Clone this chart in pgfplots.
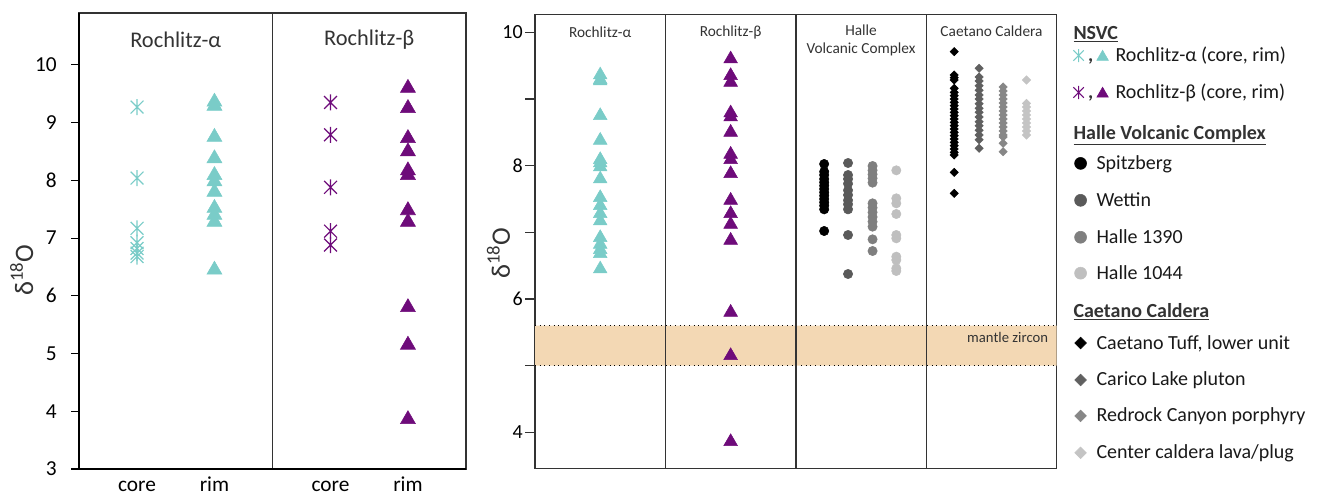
\documentclass[border=0pt]{standalone}
\usepackage{fontspec}
\setmainfont{Carlito}
\usepackage{pgfplots}
\pgfplotsset{compat=1.18}
\definecolor{cyanC}{HTML}{7ACCC8}
\definecolor{purpC}{HTML}{6E0B7A}
\definecolor{hB}{HTML}{5A5A5A}
\definecolor{hC}{HTML}{7F7F7F}
\definecolor{hD}{HTML}{BFBFBF}
\definecolor{cB}{HTML}{606060}
\definecolor{cC}{HTML}{878787}
\definecolor{cD}{HTML}{C4C4C4}
\definecolor{bandC}{HTML}{F3D8B4}
\definecolor{frameC}{HTML}{333333}
\pgfdeclareplotmark{xast}{%
  \pgfpathmoveto{\pgfqpoint{0pt}{-\pgfplotmarksize}}%
  \pgfpathlineto{\pgfqpoint{0pt}{\pgfplotmarksize}}%
  \pgfpathmoveto{\pgfqpoint{-0.8\pgfplotmarksize}{-0.8\pgfplotmarksize}}%
  \pgfpathlineto{\pgfqpoint{0.8\pgfplotmarksize}{0.8\pgfplotmarksize}}%
  \pgfpathmoveto{\pgfqpoint{-0.8\pgfplotmarksize}{0.8\pgfplotmarksize}}%
  \pgfpathlineto{\pgfqpoint{0.8\pgfplotmarksize}{-0.8\pgfplotmarksize}}%
  \pgfusepathqstroke}
\begin{document}
\begin{tikzpicture}
\useasboundingbox (0,0) rectangle (990.75pt,372.75pt);
% ---------------- left panel ----------------
\begin{axis}[
  at={(59.25pt,21pt)}, anchor=south west,
  scale only axis, width=290.25pt, height=342pt,
  xmin=0, xmax=4, ymin=3, ymax=10.9,
  axis line style={frameC, line width=0.9pt},
  xtick={0.6,1.4,2.6,3.4}, xticklabels={core,rim,core,rim},
  ytick={3,...,10},
  ytick pos=left, xtick pos=bottom, tick align=outside,
  major tick length=6pt,
  xtick style={draw=none},
  ytick style={black, line width=0.8pt},
  /pgf/number format/assume math mode=true,
  ticklabel style={font=\fontsize{16}{19}\selectfont, text=black},
  yticklabel style={inner sep=0pt, xshift=-10.5pt},
  xticklabel style={inner sep=0pt, text height=11pt, text depth=0pt, yshift=0pt},
  ylabel={δ\textsuperscript{18}O},
  ylabel style={at={(axis description cs:-0.148,0.436)}, anchor=center, font=\fontsize{20}{24}\selectfont, text=frameC},
  clip=false,
]
\addplot[only marks, mark=xast, mark size=6pt, cyanC, line width=0.9pt] coordinates {
 (0.6,9.27) (0.6,8.04) (0.6,7.17) (0.6,6.92) (0.6,6.82) (0.6,6.74) (0.6,6.68)};
\addplot[only marks, mark=triangle*, mark size=6.5pt, cyanC, mark options={fill=cyanC, draw=cyanC}] coordinates {
 (1.4,9.36) (1.4,9.29) (1.4,8.75) (1.4,8.38) (1.4,8.09) (1.4,7.98) (1.4,7.80) (1.4,7.52) (1.4,7.40) (1.4,7.28) (1.4,6.45)};
\addplot[only marks, mark=xast, mark size=6pt, purpC, line width=0.9pt] coordinates {
 (2.6,9.35) (2.6,8.79) (2.6,7.88) (2.6,7.12) (2.6,6.88)};
\addplot[only marks, mark=triangle*, mark size=6.5pt, purpC, mark options={fill=purpC, draw=purpC}] coordinates {
 (3.4,9.6) (3.4,9.25) (3.4,8.73) (3.4,8.5) (3.4,8.17) (3.4,8.09) (3.4,7.48) (3.4,7.28) (3.4,5.8) (3.4,5.15) (3.4,3.86)};
\draw[frameC, line width=0.9pt] (axis cs:2,3) -- (axis cs:2,10.9);
\draw[black, line width=1.6pt] (rel axis cs:0,1) -- (rel axis cs:0,0) -- (rel axis cs:1,0);
\node[font=\fontsize{16.8}{20}\selectfont, text=frameC] at (axis cs:1,10.43) {Rochlitz-α};
\node[font=\fontsize{16.8}{20}\selectfont, text=frameC] at (axis cs:3,10.43) {Rochlitz-β};
\end{axis}
% ---------------- right panel ----------------
\begin{axis}[
  at={(401.25pt,21.5pt)}, anchor=south west,
  scale only axis, width=391.3pt, height=340.5pt,
  xmin=0, xmax=4, ymin=3.46, ymax=10.27,
  axis line style={frameC, line width=1.1pt},
  xtick=\empty,
  ytick={4,...,10}, yticklabels={4,,6,,8,,10},
  ytick pos=left, tick align=outside, major tick length=7.5pt,
  ytick style={frameC, line width=0.9pt},
  /pgf/number format/assume math mode=true,
  ticklabel style={font=\fontsize{15}{18}\selectfont, text=black},
  yticklabel style={inner sep=1.5pt},
  ylabel={δ\textsuperscript{18}O},
  ylabel style={at={(axis description cs:-0.07,0.474)}, anchor=center, font=\fontsize{20}{24}\selectfont, text=frameC},
  clip=false,
  legend style={draw=none, fill=none, at={(1.0332,0.986)}, anchor=north west,
    inner sep=0pt, row sep=0pt, column sep=5.25pt,
    cells={anchor=base west, inner sep=0pt},
    font=\fontsize{15}{18}\selectfont, text=black!90},
  legend image code/.code={\path (-4.5pt,0pt) (4.5pt,0pt); \draw[mark repeat=1,#1] plot coordinates {(0pt,4.5pt)};},
]
% band
\addplot[fill=bandC, draw=none, forget plot] coordinates {(0,5) (4,5) (4,5.6) (0,5.6) (0,5)};
\addplot[black, line width=0.8pt, dash pattern=on 0.8pt off 2.7pt, forget plot] coordinates {(0,5) (4,5)};
\addplot[black, line width=0.8pt, dash pattern=on 0.8pt off 2.7pt, forget plot] coordinates {(0,5.6) (4,5.6)};
% NSVC
\addplot[only marks, mark=triangle*, mark size=5.9pt, mark options={fill=cyanC, draw=cyanC}, forget plot] coordinates {
 (0.5,9.36) (0.5,9.29) (0.5,9.27) (0.5,8.75) (0.5,8.38) (0.5,8.09) (0.5,8.04) (0.5,7.98) (0.5,7.80)
 (0.5,7.52) (0.5,7.40) (0.5,7.28) (0.5,7.17) (0.5,6.92) (0.5,6.82) (0.5,6.74) (0.5,6.68) (0.5,6.45)};
\addplot[only marks, mark=triangle*, mark size=5.9pt, mark options={fill=purpC, draw=purpC}, forget plot] coordinates {
 (1.5,9.6) (1.5,9.35) (1.5,9.25) (1.5,8.79) (1.5,8.73) (1.5,8.5) (1.5,8.17) (1.5,8.09) (1.5,7.88)
 (1.5,7.48) (1.5,7.28) (1.5,7.12) (1.5,6.88) (1.5,5.8) (1.5,5.15) (1.5,3.86)};
% Halle
\addplot[only marks, mark=*, mark size=3.5pt, mark options={fill=black, draw=black}, forget plot] coordinates {
 (2.217,8.025) (2.217,7.91) (2.217,7.86) (2.217,7.80) (2.217,7.75) (2.217,7.70) (2.217,7.65) (2.217,7.60)
 (2.217,7.55) (2.217,7.50) (2.217,7.45) (2.217,7.40) (2.217,7.345) (2.217,7.02)};
\addplot[only marks, mark=*, mark size=3.5pt, mark options={fill=hB, draw=hB}, forget plot] coordinates {
 (2.40,8.04) (2.40,7.86) (2.40,7.80) (2.40,7.73) (2.40,7.63) (2.40,7.56) (2.40,7.48) (2.40,7.42)
 (2.40,7.345) (2.40,6.96) (2.40,6.375)};
\addplot[only marks, mark=*, mark size=3.5pt, mark options={fill=hC, draw=hC}, forget plot] coordinates {
 (2.588,7.995) (2.588,7.93) (2.588,7.87) (2.588,7.81) (2.588,7.745) (2.588,7.435) (2.588,7.37)
 (2.588,7.30) (2.588,7.23) (2.588,7.16) (2.588,7.085) (2.588,6.895) (2.588,6.72)};
\addplot[only marks, mark=*, mark size=3.5pt, mark options={fill=hD, draw=hD}, forget plot] coordinates {
 (2.77,7.93) (2.77,7.51) (2.77,7.435) (2.77,7.275) (2.77,6.96) (2.77,6.91) (2.77,6.635) (2.77,6.585)
 (2.77,6.46) (2.77,6.42)};
% Caetano
\addplot[only marks, mark=square*, mark size=2.2pt, mark options={rotate=45, fill=black, draw=black}, forget plot] coordinates {
 (3.214,9.71) (3.214,9.36) (3.214,9.32) (3.214,9.285) (3.214,9.16) (3.214,9.10) (3.214,9.05) (3.214,9.00)
 (3.214,8.95) (3.214,8.90) (3.214,8.85) (3.214,8.80) (3.214,8.75) (3.214,8.70) (3.214,8.65) (3.214,8.60)
 (3.214,8.55) (3.214,8.50) (3.214,8.45) (3.214,8.40) (3.214,8.35) (3.214,8.30) (3.214,8.25) (3.214,8.20)
 (3.214,8.16) (3.214,7.90) (3.214,7.585)};
\addplot[only marks, mark=square*, mark size=2.2pt, mark options={rotate=45, fill=cB, draw=cB}, forget plot] coordinates {
 (3.405,9.46) (3.405,9.33) (3.405,9.27) (3.405,9.20) (3.405,9.13) (3.405,9.06) (3.405,9.00) (3.405,8.93)
 (3.405,8.86) (3.405,8.80) (3.405,8.73) (3.405,8.66) (3.405,8.60) (3.405,8.53) (3.405,8.46) (3.405,8.39)
 (3.405,8.26)};
\addplot[only marks, mark=square*, mark size=2.2pt, mark options={rotate=45, fill=cC, draw=cC}, forget plot] coordinates {
 (3.589,9.18) (3.589,9.12) (3.589,9.06) (3.589,9.00) (3.589,8.94) (3.589,8.88) (3.589,8.82) (3.589,8.76)
 (3.589,8.70) (3.589,8.64) (3.589,8.58) (3.589,8.52) (3.589,8.46) (3.589,8.43) (3.589,8.335) (3.589,8.21)};
\addplot[only marks, mark=square*, mark size=2.2pt, mark options={rotate=45, fill=cD, draw=cD}, forget plot] coordinates {
 (3.768,9.285) (3.768,8.935) (3.768,8.88) (3.768,8.82) (3.768,8.76) (3.768,8.70) (3.768,8.64) (3.768,8.58)
 (3.768,8.52) (3.768,8.46)};
% dividers and labels
\draw[frameC, line width=1.1pt] (axis cs:1,3.46) -- (axis cs:1,10.27);
\draw[frameC, line width=1.1pt] (axis cs:2,3.46) -- (axis cs:2,10.27);
\draw[frameC, line width=1.1pt] (axis cs:3,3.46) -- (axis cs:3,10.27);
\node[font=\fontsize{11.5}{13.5}\selectfont, text=frameC] at (axis cs:0.5,10.0) {Rochlitz-α};
\node[font=\fontsize{11.5}{13.5}\selectfont, text=frameC] at (axis cs:1.5,10.0) {Rochlitz-β};
\node[font=\fontsize{11.5}{13.5}\selectfont, text=frameC, align=center] at (axis cs:2.5,9.885) {Halle\\Volcanic Complex};
\node[font=\fontsize{11.5}{13.5}\selectfont, text=frameC] at (axis cs:3.5,10.02) {Caetano Caldera};
\node[font=\fontsize{11}{12}\selectfont, text=frameC, anchor=east, xshift=-3pt] at (axis cs:4,5.43) {mantle zircon};
% legend
\addlegendimage{empty legend}
\addlegendentry{\rule[-5pt]{0pt}{17pt}\hspace*{-17.25pt}\textcolor{frameC}{\textbf{\underline{NSVC}}}}
\addlegendimage{legend image code/.code={
  \path (-4.5pt,0pt) (4.5pt,0pt);
  \begin{scope}[overlay]
  \draw[cyanC, line width=0.8pt, mark=xast, mark size=4.9pt] plot coordinates {(-1.5pt,4.5pt)};
  \node[anchor=base, inner sep=0pt, text=frameC] at (7.5pt,0pt) {\textbf{,}};
  \draw[mark=triangle*, mark size=5pt, mark options={fill=cyanC, draw=cyanC}] plot coordinates {(16.5pt,3.5pt)};
  \end{scope}}}
\addlegendentry{\rule[-5pt]{0pt}{15.75pt}\hspace*{14.25pt}Rochlitz-α (core, rim)}
\addlegendimage{legend image code/.code={
  \path (-4.5pt,0pt) (4.5pt,0pt);
  \begin{scope}[overlay]
  \draw[purpC, line width=0.8pt, mark=xast, mark size=4.9pt] plot coordinates {(-1.5pt,4.5pt)};
  \node[anchor=base, inner sep=0pt, text=frameC] at (7.5pt,0pt) {\textbf{,}};
  \draw[mark=triangle*, mark size=5pt, mark options={fill=purpC, draw=purpC}] plot coordinates {(16.5pt,3.5pt)};
  \end{scope}}}
\addlegendentry{\rule[-5pt]{0pt}{27.2pt}\hspace*{14.25pt}Rochlitz-β (core, rim)}
\addlegendimage{empty legend}
\addlegendentry{\rule[-5pt]{0pt}{30.2pt}\hspace*{-17.25pt}\textcolor{frameC}{\textbf{\underline{Halle Volcanic Complex}}}}
\addlegendimage{only marks, mark=*, mark size=4.5pt, mark options={fill=black, draw=black}}
\addlegendentry{\rule[-5pt]{0pt}{21.95pt}Spitzberg}
\addlegendimage{only marks, mark=*, mark size=4.5pt, mark options={fill=hB, draw=hB}}
\addlegendentry{\rule[-5pt]{0pt}{27.2pt}Wettin}
\addlegendimage{only marks, mark=*, mark size=4.5pt, mark options={fill=hC, draw=hC}}
\addlegendentry{\rule[-5pt]{0pt}{27.2pt}Halle 1390}
\addlegendimage{only marks, mark=*, mark size=4.5pt, mark options={fill=hD, draw=hD}}
\addlegendentry{\rule[-5pt]{0pt}{26.45pt}Halle 1044}
\addlegendimage{empty legend}
\addlegendentry{\rule[-5pt]{0pt}{28.2pt}\hspace*{-17.25pt}\textcolor{frameC}{\textbf{\underline{Caetano Caldera}}}}
\addlegendimage{only marks, mark=square*, mark size=3.1pt, mark options={rotate=45, fill=black, draw=black}}
\addlegendentry{\rule[-5pt]{0pt}{23.2pt}Caetano Tuff, lower unit}
\addlegendimage{only marks, mark=square*, mark size=3.1pt, mark options={rotate=45, fill=cB, draw=cB}}
\addlegendentry{\rule[-5pt]{0pt}{27.2pt}Carico Lake pluton}
\addlegendimage{only marks, mark=square*, mark size=3.1pt, mark options={rotate=45, fill=cC, draw=cC}}
\addlegendentry{\rule[-5pt]{0pt}{26.45pt}Redrock Canyon porphyry}
\addlegendimage{only marks, mark=square*, mark size=3.1pt, mark options={rotate=45, fill=cD, draw=cD}}
\addlegendentry{\rule[-5pt]{0pt}{27.2pt}Center caldera lava/plug}
\end{axis}
\end{tikzpicture}
\end{document}
